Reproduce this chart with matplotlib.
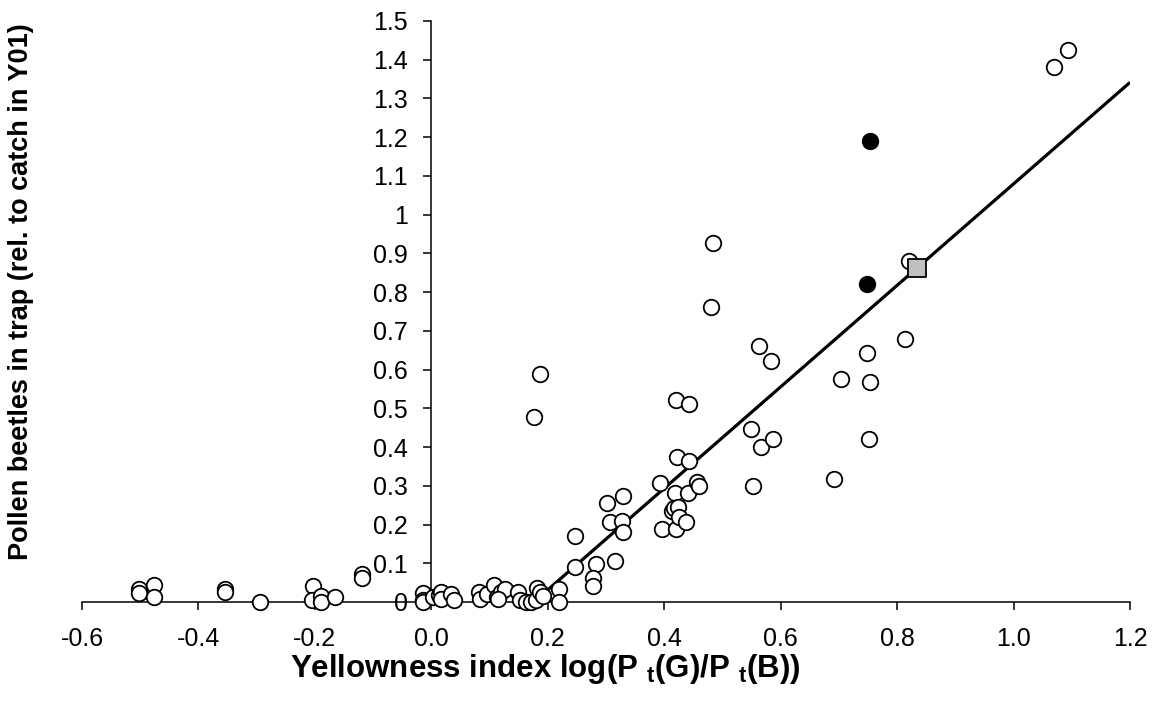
import matplotlib
matplotlib.use("Agg")
import matplotlib.pyplot as plt
import numpy as np

plt.rcParams['font.family'] = ['Liberation Sans', 'DejaVu Sans']
plt.rcParams['mathtext.fontset'] = 'custom'
plt.rcParams['mathtext.rm'] = 'Liberation Sans:bold'
plt.rcParams['mathtext.it'] = 'Liberation Sans:bold'

# trap colours: yellowness index vs relative catch
open_x = [-0.502, -0.502, -0.476, -0.476, -0.354, -0.354, -0.294,
          -0.203, -0.205, -0.19, -0.19, -0.165, -0.119, -0.119,
          -0.015, -0.015, -0.015, 0.003, 0.013, 0.017, 0.017, 0.033, 0.039,
          0.081, 0.084, 0.096, 0.107, 0.113, 0.119, 0.127, 0.115,
          0.149, 0.153, 0.163, 0.172, 0.179, 0.182, 0.186, 0.191, 0.22, 0.22, 0.246,
          0.176, 0.186,
          0.247, 0.282, 0.277, 0.277, 0.316,
          0.301, 0.33, 0.306, 0.328, 0.33,
          0.392, 0.397, 0.421, 0.419, 0.44, 0.457, 0.459,
          0.414, 0.416, 0.424, 0.426, 0.438,
          0.421, 0.443, 0.422, 0.442,
          0.481, 0.483,
          0.549, 0.566, 0.587, 0.553, 0.563, 0.583,
          0.692, 0.703, 0.749, 0.754, 0.751, 0.813, 0.82,
          1.069, 1.093]
open_y = [0.034, 0.023, 0.044, 0.013, 0.034, 0.026, 0.0,
          0.041, 0.005, 0.016, 0.0, 0.013, 0.072, 0.062,
          0.024, 0.006, 0.0, 0.013, 0.018, 0.026, 0.007, 0.02, 0.005,
          0.026, 0.008, 0.021, 0.044, 0.013, 0.026, 0.034, 0.008,
          0.026, 0.005, 0.0, 0.0, 0.005, 0.036, 0.026, 0.016, 0.034, 0.0, 0.09,
          0.477, 0.588,
          0.171, 0.098, 0.062, 0.041, 0.106,
          0.256, 0.274, 0.207, 0.209, 0.181,
          0.307, 0.189, 0.189, 0.281, 0.282, 0.31, 0.3,
          0.235, 0.243, 0.246, 0.22, 0.207,
          0.522, 0.512, 0.375, 0.364,
          0.762, 0.928,
          0.447, 0.401, 0.421, 0.3, 0.661, 0.623,
          0.318, 0.576, 0.643, 0.568, 0.421, 0.68, 0.881,
          1.38, 1.426]

filled_x = [0.753, 0.749]
filled_y = [1.189, 0.822]

square_x = [0.835]
square_y = [0.863]

# broken-stick fit: zero below the threshold, linear above
threshold = 0.176
slope = 1.31

x_ticks = [-0.6, -0.4, -0.2, 0.0, 0.2, 0.4, 0.6, 0.8, 1.0, 1.2]
y_ticks = [0, 0.1, 0.2, 0.3, 0.4, 0.5, 0.6, 0.7, 0.8, 0.9, 1, 1.1, 1.2, 1.3, 1.4, 1.5]

fig = plt.figure(figsize=(11.52, 7.04), dpi=100)
ax = fig.add_axes([0.0712, 0.1449, 0.9097, 0.8253])

fit_x = np.array([threshold, 1.2])
fit_y = slope * (fit_x - threshold)
ax.plot(fit_x, fit_y, color='black', lw=2.3, zorder=2, solid_capstyle='butt')

ax.scatter(open_x, open_y, s=125, facecolor='white', edgecolor='black',
           linewidths=1.3, zorder=3, clip_on=False)
ax.scatter(filled_x, filled_y, s=125, facecolor='black', edgecolor='black',
           linewidths=1.3, zorder=3, clip_on=False)
ax.scatter(square_x, square_y, s=150, marker='s', facecolor='#c0c0c0',
           edgecolor='black', linewidths=1.3, zorder=4, clip_on=False)

ax.set_xlim(-0.6, 1.2)
ax.set_ylim(0, 1.5)

ax.spines['top'].set_visible(False)
ax.spines['right'].set_visible(False)
ax.spines['left'].set_position(('data', 0))
for s in ('left', 'bottom'):
    ax.spines[s].set_linewidth(1.1)

ax.set_xticks(x_ticks)
ax.set_xticklabels([f'{v:.1f}' for v in x_ticks])
ax.set_yticks(y_ticks)
ax.set_yticklabels([f'{v:g}' for v in y_ticks])
ax.tick_params(axis='both', direction='out', length=6, width=1.1,
               labelsize=18)
ax.tick_params(axis='x', pad=12)
ax.tick_params(axis='y', pad=11)

ax.set_xlabel('Yellowness index log(P $_t$(G)/P $_t$(B))',
              fontsize=22.5, fontweight='bold', va='center')
ax.xaxis.set_label_coords(545 / 1152, 1 - 669 / 704, transform=fig.transFigure)
ax.set_ylabel('Pollen beetles in trap (rel. to catch in Y01)',
              fontsize=19.5, fontweight='bold', va='center')
ax.yaxis.set_label_coords(21 / 1152, 1 - 292 / 704, transform=fig.transFigure)

fig.savefig('out.png', dpi=100)
